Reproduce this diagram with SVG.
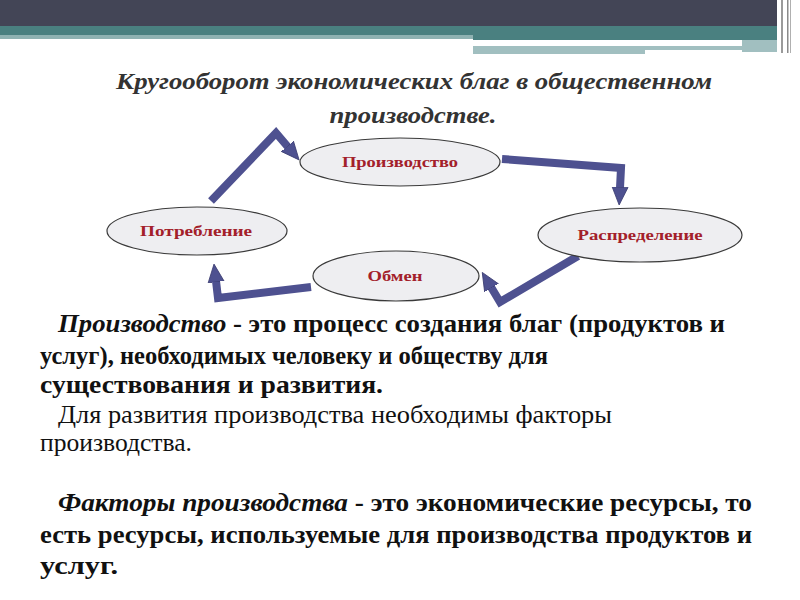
<svg xmlns="http://www.w3.org/2000/svg" width="800" height="600" viewBox="0 0 800 600">
<style>
.node ellipse{fill:#EEEEF1;stroke:#3a3a3a;stroke-width:1.2}
.node text{font-family:"Liberation Serif","DejaVu Serif Condensed","DejaVu Serif",serif;font-weight:bold;font-size:14px;fill:#A3202A;text-anchor:middle}
.conn{fill:none;stroke:#4E5190;stroke-width:8;stroke-linejoin:miter;marker-end:url(#head)}
.title{font-family:"Liberation Serif","DejaVu Serif Condensed","DejaVu Serif",serif;font-weight:bold;font-style:italic;font-size:24px;fill:#333333;text-anchor:middle}
.body{font-family:"Liberation Serif","DejaVu Serif Condensed","DejaVu Serif",serif;font-size:26px;fill:#111}
.b{font-weight:bold}
.bi{font-weight:bold;font-style:italic}
</style>
<defs>
<marker id="head" markerUnits="userSpaceOnUse" markerWidth="20" markerHeight="20" viewBox="0 0 20 20" refX="1" refY="10" orient="auto">
<path d="M0,2 L18,10 L0,18 z" fill="#4E5190" stroke="#3A3C70" stroke-width="0.8"/>
</marker>
</defs>
<rect width="800" height="600" fill="#FFFFFF"/>
<g id="header">
<rect x="0" y="0" width="777" height="26" fill="#434556"/>
<rect x="0" y="26" width="473" height="9" fill="#4A8080"/>
<rect x="0" y="35" width="473" height="4" fill="#8FB2B2"/>
<rect x="473" y="26" width="304" height="14" fill="#4A8080"/>
<rect x="473" y="42" width="269" height="3" fill="#FFFFFF"/>
<rect x="742" y="40" width="35" height="12" fill="#A1BFC0"/>
<rect x="473" y="46" width="172" height="8" fill="#A1BFC0"/>
<rect x="645" y="46" width="132" height="4" fill="#A1BFC0"/>
<rect x="781" y="0" width="2" height="53" fill="#9A9A9A"/>
<rect x="787" y="0" width="1.5" height="53" fill="#8A8A8A"/>
<rect x="790" y="0" width="1" height="53" fill="#B0B0B0"/>
</g>
<g id="title">
<text class="title" x="414" y="89" textLength="596" lengthAdjust="spacingAndGlyphs">Кругооборот экономических благ в общественном</text>
<text class="title" x="413" y="123" textLength="167" lengthAdjust="spacingAndGlyphs">производстве.</text>
</g>
<g id="connectors">
<path class="conn" d="M211,201 L276,133 L288,147"/>
<path class="conn" d="M502,159 L621,168 L620,188"/>
<path class="conn" d="M578,256 L500,302 L491,287"/>
<path class="conn" d="M311,287 L218,298 L216,281"/>
</g>
<g id="n-proizvodstvo" class="node">
<ellipse cx="400" cy="162" rx="100" ry="24"/>
<text x="400" y="167" textLength="116" lengthAdjust="spacingAndGlyphs">Производство</text>
</g>
<g id="n-potreblenie" class="node">
<ellipse cx="197" cy="231" rx="90" ry="24"/>
<text x="196" y="236" textLength="112" lengthAdjust="spacingAndGlyphs">Потребление</text>
</g>
<g id="n-obmen" class="node">
<ellipse cx="396" cy="276" rx="83" ry="25"/>
<text x="395" y="281" textLength="55" lengthAdjust="spacingAndGlyphs">Обмен</text>
</g>
<g id="n-raspredelenie" class="node">
<ellipse cx="640" cy="235" rx="102" ry="27"/>
<text x="640" y="240" textLength="125" lengthAdjust="spacingAndGlyphs">Распределение</text>
</g>
<g id="text">
<text class="body" x="58" y="332" textLength="667" lengthAdjust="spacingAndGlyphs"><tspan class="bi">Производство</tspan><tspan class="b"> - это процесс создания благ (продуктов и</tspan></text>
<text class="body b" x="40" y="364" textLength="508" lengthAdjust="spacingAndGlyphs">услуг), необходимых человеку и обществу для</text>
<text class="body b" x="40" y="393" textLength="343" lengthAdjust="spacingAndGlyphs">существования и развития.</text>
<text class="body" x="58" y="423" textLength="554" lengthAdjust="spacingAndGlyphs">Для развития производства необходимы факторы</text>
<text class="body" x="40" y="451" textLength="152" lengthAdjust="spacingAndGlyphs">производства.</text>
<text class="body" x="58" y="511" textLength="694" lengthAdjust="spacingAndGlyphs"><tspan class="bi">Факторы производства</tspan><tspan class="b"> - это экономические ресурсы, то</tspan></text>
<text class="body b" x="40" y="543" textLength="712" lengthAdjust="spacingAndGlyphs">есть ресурсы, используемые для производства продуктов и</text>
<text class="body b" x="40" y="574" textLength="78" lengthAdjust="spacingAndGlyphs">услуг.</text>
</g>
</svg>
